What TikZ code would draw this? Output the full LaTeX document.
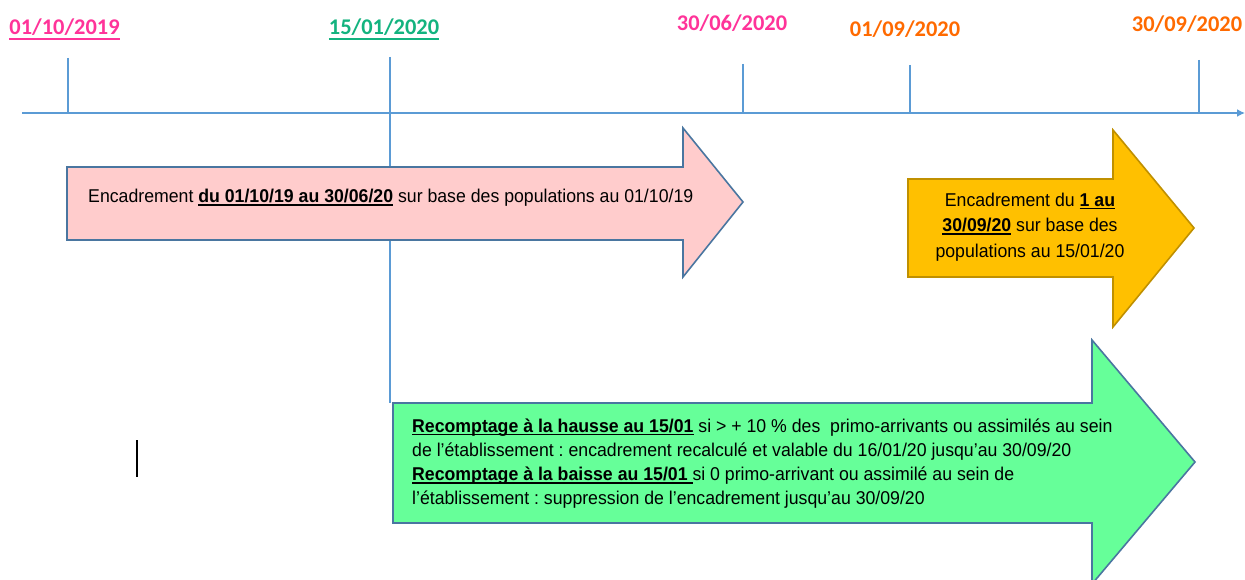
\documentclass[tikz,border=0pt]{standalone}
\usepackage{fontspec}
\setmainfont{Liberation Sans}[FakeStretch=0.955]
\newfontfamily\datefont{Carlito}
\usetikzlibrary{arrows.meta}
\definecolor{tl}{HTML}{5B9BD5}
\definecolor{datepink}{HTML}{FF3399}
\definecolor{dategreen}{HTML}{13B37F}
\definecolor{dateorange}{HTML}{FF6A00}
\definecolor{pinkfill}{HTML}{FFCCCC}
\definecolor{orangefill}{HTML}{FFC000}
\definecolor{orangeedge}{HTML}{C09000}
\definecolor{greenfill}{HTML}{66FF99}
\definecolor{arrowedge}{HTML}{4A76A0}
\newcommand\ulx[3]{\setbox0\hbox{#3}\rlap{\rule[#1]{\wd0}{#2}}\box0\relax}
\frenchspacing
\begin{document}
\begin{tikzpicture}[x=1bp,y=-1bp,
  datelbl/.style={anchor=base,inner sep=0pt,font=\datefont\bfseries\fontsize{22.5}{27}\selectfont},
  tickline/.style={draw=tl,line width=1.2bp},
  bodytext/.style={inner sep=0pt,font=\fontsize{18.6}{24.5}\selectfont},
  bigarrow/.style={line width=1.6bp,line join=miter},
]
\useasboundingbox (0,0) rectangle (1245,580);
\clip (0,0) rectangle (1245,580);
\fill[white] (0,0) rectangle (1245,580);

% dates
\node[datelbl,text=datepink] (d1) at (64.5,35) {\ulx{-5pt}{1.6pt}{01/10/2019}};
\node[datelbl,text=dategreen] (d2) at (384,35) {\ulx{-5pt}{1.6pt}{15/01/2020}};
\node[datelbl,text=datepink] (d3) at (732,31) {30/06/2020};
\node[datelbl,text=dateorange] (d4) at (905,37) {01/09/2020};
\node[datelbl,text=dateorange] (d5) at (1187,32) {30/09/2020};

% ticks
\coordinate (t1a) at (68,58);   \coordinate (t1b) at (68,113);
\coordinate (t2a) at (390,57);  \coordinate (t2b) at (390,403);
\coordinate (t3a) at (743,64);  \coordinate (t3b) at (743,113);
\coordinate (t4a) at (910,65);  \coordinate (t4b) at (910,113);
\coordinate (t5a) at (1199,60); \coordinate (t5b) at (1199,113);
\draw[tickline] (t1a) -- (t1b);
\draw[tickline] (t2a) -- (t2b);
\draw[tickline] (t3a) -- (t3b);
\draw[tickline] (t4a) -- (t4b);
\draw[tickline] (t5a) -- (t5b);

% timeline
\coordinate (tlstart) at (22,113);
\coordinate (tlend) at (1245,113);
\draw[tl,line width=2.2bp,-{Latex[length=8bp,width=8bp]}] (tlstart) -- (tlend);

% pink arrow
\draw[bigarrow,fill=pinkfill,draw=arrowedge]
  (67,167) -- (683,167) -- (683,128) -- (743,202) -- (683,277) -- (683,240) -- (67,240) -- cycle;
\node[bodytext,anchor=base west] (ptext) at (88,203)
  {Encadrement \ulx{-3pt}{1.5pt}{\textbf{du 01/10/19 au 30/06/20}} sur base des populations au 01/10/19};

% orange arrow
\draw[bigarrow,fill=orangefill,draw=orangeedge]
  (908,179) -- (1113,179) -- (1113,130) -- (1194,228) -- (1113,327) -- (1113,277) -- (908,277) -- cycle;
\node[bodytext,align=center,font=\fontsize{18.6}{25.5}\selectfont] (otext) at (1030,227)
  {Encadrement du \ulx{-3pt}{1.5pt}{\textbf{1 au}}\\
   \ulx{-3pt}{1.5pt}{\textbf{30/09/20}} sur base des\\
   populations au 15/01/20};

% green arrow
\draw[bigarrow,fill=greenfill,draw=arrowedge]
  (393,403) -- (1092,403) -- (1092,340) -- (1195,462) -- (1092,584) -- (1092,523) -- (393,523) -- cycle;
\node[bodytext,align=left,anchor=north west,font=\fontsize{18.6}{24.3}\selectfont] (gtext) at (412,418.5)
  {\ulx{-3pt}{1.5pt}{\textbf{Recomptage à la hausse au 15/01}} si > + 10 \% des~ primo-arrivants ou assimilés au sein\\
   de l’établissement : encadrement recalculé et valable du 16/01/20 jusqu’au 30/09/20\\
   \ulx{-3pt}{1.5pt}{\textbf{Recomptage à la baisse au 15/01 }}si 0 primo-arrivant ou assimilé au sein de\\
   l’établissement : suppression de l’encadrement jusqu’au 30/09/20};

% cursor bar
\coordinate (cur1) at (137,440);
\coordinate (cur2) at (137,477);
\draw[black,line width=1.5bp] (cur1) -- (cur2);
\end{tikzpicture}
\end{document}
